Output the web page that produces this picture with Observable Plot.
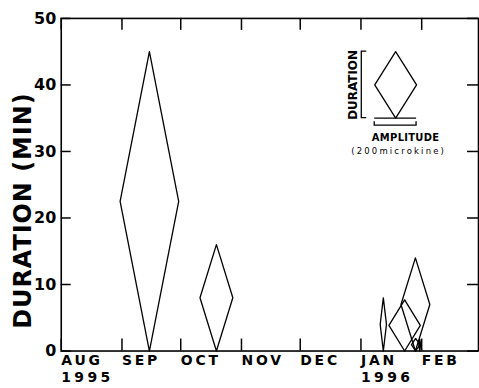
<!DOCTYPE html>
<html>
<head>
<meta charset="utf-8">
<script src="https://cdn.jsdelivr.net/npm/d3@7"></script>
<script src="https://cdn.jsdelivr.net/npm/@observablehq/plot@0.6"></script>
<style>
  html, body { margin: 0; padding: 0; background: #fff; overflow: hidden; }
  #chart svg { display: block; }
</style>
</head>
<body>
<div id="chart"></div>
<script>
// ---- data ----
const monthLabels = ["AUG", "SEP", "OCT", "NOV", "DEC", "JAN", "FEB"];
const monthStarts = ["1995-08-01", "1995-09-01", "1995-10-01", "1995-11-01", "1995-12-01", "1996-01-01", "1996-02-01"];
const yearLabels = ["1995", "1996"];
const yearStarts = ["1995-08-01", "1996-01-01"];
const xDomain = ["1995-08-01", "1996-03-01"];
const yTicks = [0, 10, 20, 30, 40, 50];
const yTitle = "DURATION (MIN)";

// events: centre date, duration (min), amplitude (microkine)
const eventDates = ["1995-09-15T00:00", "1995-10-19T05:00", "1996-01-12T10:00", "1996-01-23T07:00", "1996-01-28T19:00", "1996-01-28T22:00", "1996-01-31T00:00"];
const durations  = [45, 16, 8, 7.7, 14, 1.9, 1.8];
const amplitudes = [280, 157, 30, 150, 138, 40, 9];

// key (legend)
const keyDate = "1996-01-18T17:00";
const keyBase = 35;
const keyDuration = 10;
const keyAmplitude = 200;
const keyLabels = ["DURATION", "AMPLITUDE", "(200microkine)"];

// horizontal extent of one microkine of amplitude, expressed in time
const msPerMicrokine = 0.1068 * 864e5;

// ---- helpers ----
const parse = s => new Date(s.length === 10 ? s + "T00:00Z" : s + "Z");

function diamond(id, date, dur, amp, base) {
  const c = +parse(date), h = amp * msPerMicrokine / 2;
  return [[c, base], [c - h, base + dur / 2], [c, base + dur], [c + h, base + dur / 2], [c, base]]
    .map(([t, v]) => ({id, x: new Date(t), y: v}));
}

const diamonds = eventDates.flatMap((d, i) => diamond(i, d, durations[i], amplitudes[i], 0));
const keyDiamond = diamond("key", keyDate, keyDuration, keyAmplitude, keyBase);
const keyC = +parse(keyDate);
const keyLeft = new Date(keyC - keyAmplitude * msPerMicrokine / 2);
const keyRight = new Date(keyC + keyAmplitude * msPerMicrokine / 2);

const width = 481, height = 388;
const margin = {left: 61, right: 1, top: 18, bottom: 36};
const innerW = width - margin.left - margin.right;
const innerH = height - margin.top - margin.bottom;

const months = monthStarts.map(parse);
const bold = {fontFamily: "DejaVu Sans", fontWeight: "bold", fill: "black"};

// brackets of the key, positioned through the plot's scales
const keyBrackets = (index, scales) => {
  const x = scales.x, y = scales.y;
  const cx = x(parse(keyDate));
  const xl = x(keyLeft), xr = x(keyRight);
  const yb = y(keyBase), yt = y(keyBase + keyDuration);
  const bx = cx - 34;
  const g = d3.create("svg:g")
    .attr("fill", "none").attr("stroke", "black").attr("stroke-width", 1.3);
  g.append("path").attr("d", `M${bx + 5},${yt}H${bx}V${yb}H${bx + 5}`);
  g.append("path").attr("d", `M${xl},${yb + 3.5}V${yb + 7.5}H${xr}V${yb + 3.5}`);
  return g.node();
};

const chart = Plot.plot({
  width, height,
  marginLeft: margin.left, marginRight: margin.right,
  marginTop: margin.top, marginBottom: margin.bottom,
  style: {background: "white", color: "black", fontFamily: "DejaVu Sans"},
  x: {type: "utc", domain: xDomain.map(parse), axis: null},
  y: {domain: [0, 50], axis: null},
  marks: [
    Plot.frame({stroke: "black", strokeWidth: 1.6}),
    // month ticks (bottom and top, pointing inward)
    Plot.tickX(months, {x: d => d, insetTop: innerH - 12, stroke: "black", strokeWidth: 1.5}),
    Plot.tickX(months, {x: d => d, insetBottom: innerH - 12, stroke: "black", strokeWidth: 1.5}),
    // duration ticks (left and right, pointing inward)
    Plot.tickY(yTicks, {y: d => d, insetRight: innerW - 10, stroke: "black", strokeWidth: 1.5}),
    Plot.tickY(yTicks, {y: d => d, insetLeft: innerW - 11, stroke: "black", strokeWidth: 1.5}),
    Plot.axisY({ticks: yTicks, tickSize: 0, tickPadding: 5, label: null, fontSize: 16, ...bold}),
    Plot.text(months, {x: d => d, text: (d, i) => monthLabels[i], frameAnchor: "bottom", dy: 10,
      textAnchor: "start", lineAnchor: "middle", fontSize: 14, ...bold}),
    Plot.text(yearStarts.map(parse), {x: d => d, text: (d, i) => yearLabels[i], frameAnchor: "bottom", dy: 27,
      textAnchor: "start", lineAnchor: "middle", fontSize: 14, ...bold}),
    Plot.text([yTitle], {text: d => d, frameAnchor: "left", rotate: -90, dx: -38, dy: 26,
      textAnchor: "middle", lineAnchor: "middle", fontSize: 24, ...bold}),
    // events
    Plot.line(diamonds, {x: "x", y: "y", z: "id", stroke: "black", strokeWidth: 1.3, curve: "linear"}),
    // key
    Plot.line(keyDiamond, {x: "x", y: "y", z: "id", stroke: "black", strokeWidth: 1.3}),
    Plot.ruleY([keyBase], {x1: keyLeft, x2: keyRight, stroke: "black", strokeWidth: 1.3}),
    keyBrackets,
    Plot.text([keyLabels[0]], {x: parse(keyDate), y: keyBase + keyDuration / 2, text: d => d,
      rotate: -90, dx: -43, fontSize: 12, ...bold}),
    Plot.text([keyLabels[1]], {x: parse(keyDate), y: keyBase, text: d => d,
      dx: 10, dy: 20, fontSize: 10, ...bold}),
    Plot.text([keyLabels[2]], {x: parse(keyDate), y: keyBase, text: d => d,
      dx: 3, dy: 33, fontSize: 8.5, fontFamily: "DejaVu Sans", fill: "black"})
  ]
});

// letter spacing (tracking) of the original lettering
const tracking = new Map([
  [yTitle, 1], [keyLabels[2], 2.2], [keyLabels[1], 0.3],
  ...monthLabels.map(m => [m, 2.8]), ...yearLabels.map(y => [y, 3.4])
]);
d3.select(chart).selectAll("text").each(function () {
  const t = tracking.get(this.textContent);
  if (t != null) this.setAttribute("letter-spacing", t);
});

document.getElementById("chart").appendChild(chart);
</script>
</body>
</html>
